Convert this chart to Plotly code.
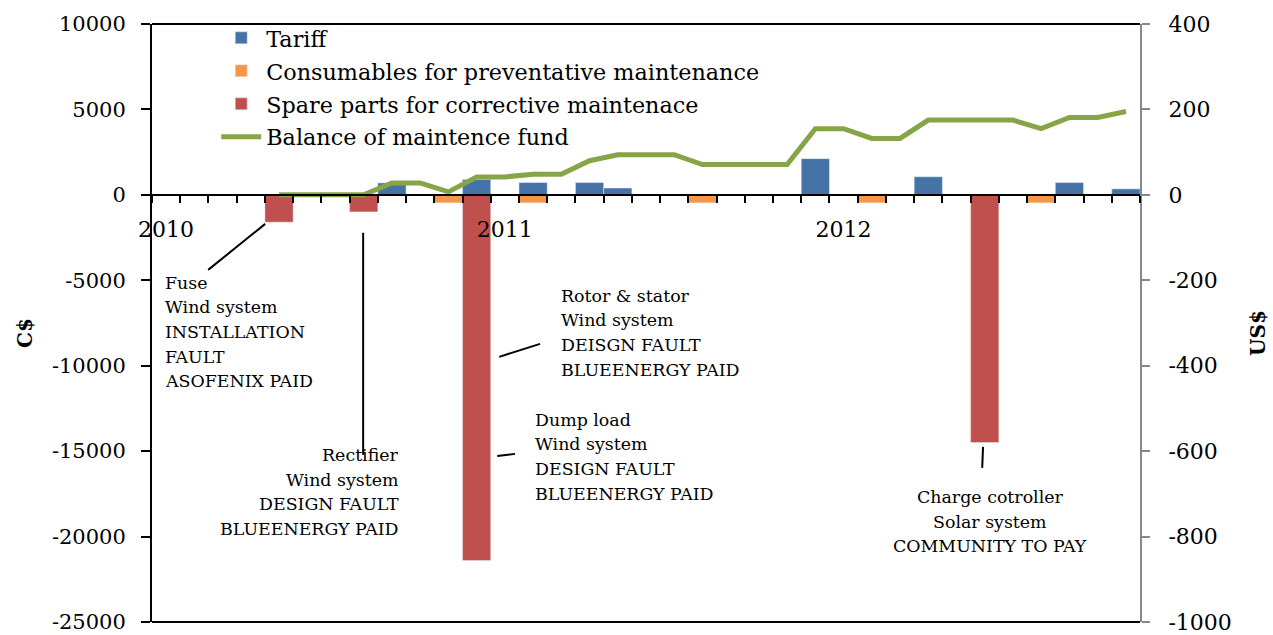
import plotly.graph_objects as go

# Monthly periods, Jan 2010 .. Nov 2012
months = [f"{y}-{m:02d}" for y in (2010, 2011, 2012) for m in range(1, 13)][:35]
year_labels = {"2010-01": "2010", "2011-01": "2011", "2012-01": "2012"}

# C$ per month
tariff = [None, None, None, None, None, None, None, None, 700, None,
          None, 900, None, 720, None, 720, 400, None, None, None,
          None, None, None, 2120, None, None, None, 1060, None, None,
          None, None, 720, None, 350]
consumables = [None, None, None, None, None, None, None, None, None, None,
               -470, None, None, -470, None, None, None, None, None, -470,
               None, None, None, None, None, -470, None, None, None, None,
               None, -470, None, None, None]
spare_parts = [None, None, None, None, -1600, None, None, -1000, None, None,
               None, -21400, None, None, None, None, None, -40, None, None,
               None, None, None, None, None, None, None, None, None, -14500,
               None, None, None, None, None]
# US$ balance of the fund
balance = [None, None, None, None, 0, 0, 0, 0, 28, 28,
           7, 42, 42, 48, 48, 80, 94, 94, 94, 71,
           71, 71, 71, 155, 155, 132, 132, 175, 175, 175,
           175, 155, 181, 181, 195]

# axis ticks
cs_ticks = [-25000, -20000, -15000, -10000, -5000, 0, 5000, 10000]
cs_labels = ["-25000", "-20000", "-15000", "-10000", "-5000", "0", "5000", "10000"]
us_ticks = [-1000, -800, -600, -400, -200, 0, 200, 400]
us_labels = ["-1000", "-800", "-600", "-400", "-200", "0", "200", "400"]

BLUE, ORANGE, RED, GREEN = "#4572A7", "#F79646", "#C0504D", "#86A548"
FONT = "DejaVu Serif"

fig = go.Figure()
fig.add_bar(x=months, y=tariff, name="Tariff", marker_color=BLUE, width=1,
            legendgroup="a")
fig.add_bar(x=months, y=consumables, name="Consumables for preventative maintenance",
            marker_color=ORANGE, width=1, legendgroup="b")
fig.add_bar(x=months, y=spare_parts, name="Spare parts for corrective maintenace",
            marker_color=RED, width=1, legendgroup="c")
fig.add_scatter(x=months, y=balance, name="Balance of maintence fund", yaxis="y2",
                mode="lines", line=dict(color=GREEN, width=5), legendgroup="d")

# event notes: (lines, x, first-line y, xanchor)
notes = [
    (["Fuse", "Wind system", "INSTALLATION", "FAULT", "ASOFENIX PAID"], -0.12, -5150, "left"),
    (["Rectifier", "Wind system", "DESIGN FAULT", "BLUEENERGY PAID"], 8.32, -15220, "right"),
    (["Rotor & stator", "Wind system", "DEISGN FAULT", "BLUEENERGY PAID"], 13.92, -5910, "left"),
    (["Dump load", "Wind system", "DESIGN FAULT", "BLUEENERGY PAID"], 13.0, -13170, "left"),
    (["Charge cotroller", "Solar system", "COMMUNITY TO PAY"], 29.19, -17680, "center"),
]
LINE_STEP = 1440  # C$ units between text lines

leaders = [
    (1.49, -4390, 3.51, -1700),
    (6.98, -2220, 6.98, -15220),
    (11.80, -9480, 13.25, -8720),
    (11.73, -15280, 12.36, -15160),
    (28.94, -14750, 28.91, -15980),
]

annotations = []
for lines, x, y0, xa in notes:
    for i, line in enumerate(lines):
        annotations.append(dict(
            text=line.replace("&", "&amp;"), x=x, y=y0 - i * LINE_STEP, xref="x", yref="y",
            xanchor=xa, yanchor="middle", showarrow=False,
            font=dict(family=FONT, size=17.4, color="black")))
annotations += [
    dict(text="<b>C$</b>", xref="paper", yref="paper", x=-(152 - 25) / 988, y=(611 - 322) / 598,
         xanchor="center", yanchor="middle",
         showarrow=False, textangle=-90, font=dict(family=FONT, size=20, color="black")),
    dict(text="<b>US$</b>", xref="paper", yref="paper", x=(1258 - 152) / 988, y=(611 - 322) / 598,
         xanchor="center", yanchor="middle",
         showarrow=False, textangle=-90, font=dict(family=FONT, size=20, color="black")),
]

shapes = [
    dict(type="line", xref="x", yref="y", x0=a, y0=b, x1=c, y1=d,
         line=dict(color="black", width=2))
    for a, b, c, d in leaders
]
shapes += [
    dict(type="line", xref="paper", yref="paper", x0=0, x1=1, y0=1, y1=1,
         line=dict(color="black", width=2)),
    dict(type="line", xref="paper", yref="paper", x0=0, x1=1, y0=0, y1=0,
         line=dict(color="black", width=2)),
]

fig.update_layout(
    width=1273, height=635,
    margin=dict(l=152, r=133, t=24, b=13, autoexpand=False),
    barmode="overlay",
    plot_bgcolor="white", paper_bgcolor="white",
    font=dict(family=FONT, size=22, color="black"),
    showlegend=True,
    legend=dict(x=0.065, y=1.012, xanchor="left", yanchor="top",
                bgcolor="rgba(0,0,0,0)", font=dict(family=FONT, size=22.3),
                traceorder="grouped", tracegroupgap=1, itemwidth=40),
    xaxis=dict(type="category", categoryorder="array", categoryarray=months,
               range=[-0.5, 34.5], anchor="free", position=25000 / 35000,
               tickson="boundaries", tickmode="array", tickvals=months,
               ticktext=[year_labels.get(m, "") for m in months], tickangle=0,
               ticks="outside", ticklen=7, tickwidth=2, tickcolor="black",
               showline=True, linecolor="black", linewidth=2,
               showgrid=False, zeroline=False, ticklabelstandoff=15),
    yaxis=dict(range=[-25000, 10000], tickmode="array", tickvals=cs_ticks, ticktext=cs_labels,
               ticks="outside", ticklen=9, tickwidth=2, tickcolor="black",
               tickfont=dict(size=21),
               showline=True, linecolor="black", linewidth=2,
               showgrid=False, zeroline=False, ticklabelstandoff=11),
    yaxis2=dict(range=[-1000, 400], tickmode="array", tickvals=us_ticks, ticktext=us_labels,
                overlaying="y", side="right",
                ticks="outside", ticklen=8, tickwidth=2, tickcolor="#888888",
                showline=True, linecolor="#888888", linewidth=2,
                showgrid=False, zeroline=False, ticklabelstandoff=14),
    annotations=annotations,
    shapes=shapes,
)

fig.write_html("out.html")
